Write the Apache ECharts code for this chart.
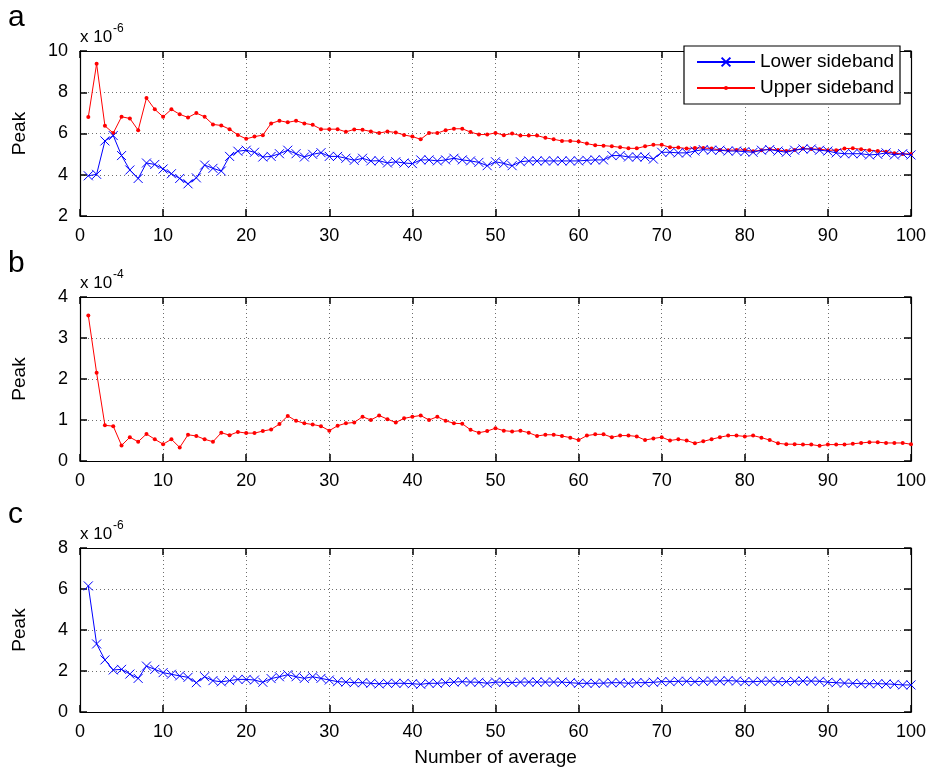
<!DOCTYPE html>
<html>
<head>
<meta charset="utf-8">
<script src="https://cdn.jsdelivr.net/npm/echarts@6/dist/echarts.min.js"></script>
<style>
  html, body { margin: 0; padding: 0; background: #ffffff; }
  #chart { width: 929px; height: 772px; }
</style>
</head>
<body>
<div id="chart"></div>
<script>
// Number of averaged acquisitions (x axis)
const averages = Array.from({ length: 100 }, (_, i) => i + 1);
const xTicks = [0, 10, 20, 30, 40, 50, 60, 70, 80, 90, 100];

// Panel a: peak amplitude of the two sidebands (x 10^-6)
const lowerSidebandA = [
  3.95, 4.02, 5.64, 5.90, 4.93, 4.23, 3.82, 4.57, 4.50, 4.28,
  4.05, 3.82, 3.56, 3.85, 4.47, 4.31, 4.18, 4.89, 5.14, 5.19,
  5.09, 4.86, 4.89, 5.02, 5.19, 5.02, 4.86, 4.99, 5.07, 4.89,
  4.89, 4.80, 4.70, 4.80, 4.67, 4.68, 4.57, 4.63, 4.57, 4.54,
  4.72, 4.72, 4.67, 4.72, 4.80, 4.72, 4.67, 4.60, 4.44, 4.63,
  4.55, 4.44, 4.63, 4.67, 4.67, 4.67, 4.67, 4.67, 4.67, 4.67,
  4.70, 4.72, 4.72, 4.93, 4.93, 4.86, 4.86, 4.86, 4.76, 5.09,
  5.09, 5.06, 5.06, 5.15, 5.22, 5.19, 5.19, 5.15, 5.15, 5.12,
  5.09, 5.19, 5.22, 5.15, 5.09, 5.19, 5.25, 5.25, 5.19, 5.15,
  5.06, 5.02, 5.02, 5.02, 4.96, 4.99, 5.06, 4.96, 5.02, 4.96
];
const upperSidebandA = [
  6.80, 9.38, 6.37, 6.02, 6.81, 6.73, 6.16, 7.72, 7.17, 6.81,
  7.17, 6.93, 6.78, 6.99, 6.81, 6.44, 6.39, 6.21, 5.93, 5.74,
  5.85, 5.92, 6.49, 6.62, 6.54, 6.62, 6.49, 6.42, 6.21, 6.21,
  6.21, 6.08, 6.20, 6.18, 6.10, 6.02, 6.10, 6.05, 5.93, 5.85,
  5.72, 6.03, 6.02, 6.16, 6.23, 6.23, 6.07, 5.95, 5.95, 6.03,
  5.92, 6.00, 5.90, 5.90, 5.90, 5.79, 5.72, 5.64, 5.64, 5.61,
  5.51, 5.43, 5.41, 5.38, 5.33, 5.28, 5.28, 5.38, 5.45, 5.45,
  5.33, 5.32, 5.27, 5.30, 5.30, 5.27, 5.20, 5.19, 5.20, 5.20,
  5.14, 5.19, 5.24, 5.20, 5.15, 5.20, 5.27, 5.25, 5.24, 5.19,
  5.19, 5.27, 5.28, 5.24, 5.19, 5.15, 5.12, 5.04, 5.01, 5.01
];

// Panel b: peak (x 10^-4)
const peakB = [
  3.55, 2.15, 0.87, 0.85, 0.38, 0.58, 0.47, 0.66, 0.53, 0.41,
  0.53, 0.33, 0.64, 0.61, 0.53, 0.47, 0.69, 0.63, 0.71, 0.68,
  0.68, 0.73, 0.77, 0.90, 1.10, 0.98, 0.92, 0.89, 0.85, 0.74,
  0.86, 0.92, 0.94, 1.08, 1.00, 1.11, 1.02, 0.94, 1.04, 1.08,
  1.11, 1.00, 1.08, 0.98, 0.92, 0.91, 0.76, 0.69, 0.73, 0.80,
  0.74, 0.72, 0.74, 0.69, 0.61, 0.64, 0.64, 0.61, 0.57, 0.51,
  0.62, 0.65, 0.65, 0.58, 0.62, 0.62, 0.60, 0.51, 0.55, 0.58,
  0.50, 0.53, 0.50, 0.43, 0.48, 0.53, 0.58, 0.62, 0.62, 0.60,
  0.62, 0.57, 0.51, 0.43, 0.41, 0.41, 0.40, 0.40, 0.37, 0.40,
  0.40, 0.40, 0.42, 0.44, 0.46, 0.46, 0.44, 0.44, 0.44, 0.41
];

// Panel c: peak (x 10^-6)
const peakC = [
  6.15, 3.32, 2.54, 2.05, 2.08, 1.85, 1.64, 2.24, 2.08, 1.92,
  1.84, 1.76, 1.69, 1.43, 1.72, 1.53, 1.47, 1.53, 1.59, 1.59,
  1.56, 1.45, 1.63, 1.72, 1.82, 1.72, 1.64, 1.72, 1.64, 1.56,
  1.48, 1.46, 1.43, 1.43, 1.40, 1.37, 1.40, 1.40, 1.40, 1.38,
  1.35, 1.40, 1.40, 1.43, 1.46, 1.48, 1.46, 1.45, 1.40, 1.46,
  1.45, 1.43, 1.46, 1.46, 1.46, 1.46, 1.46, 1.46, 1.43, 1.40,
  1.40, 1.40, 1.41, 1.43, 1.43, 1.40, 1.43, 1.43, 1.45, 1.48,
  1.48, 1.50, 1.50, 1.48, 1.50, 1.51, 1.51, 1.53, 1.51, 1.48,
  1.48, 1.50, 1.51, 1.48, 1.48, 1.50, 1.51, 1.51, 1.50, 1.45,
  1.43, 1.41, 1.40, 1.38, 1.38, 1.38, 1.37, 1.35, 1.32, 1.32
];

// Y ranges of the three panels
const yRangeA = { min: 2, max: 10, interval: 2 };
const yRangeB = { min: 0, max: 4, interval: 1 };
const yRangeC = { min: 0, max: 8, interval: 2 };

const FONT = '"Liberation Sans", Arial, Helvetica, sans-serif';
const BLUE = '#0000ff';
const RED = '#ff0000';
const CROSS = 'path://M0,0L10,10M10,0L0,10';

const panels = [
  { top: 51, height: 165, range: yRangeA, letter: 'a', exp: '-6' },
  { top: 297, height: 164, range: yRangeB, letter: 'b', exp: '-4' },
  { top: 548, height: 164, range: yRangeC, letter: 'c', exp: '-6' }
];

const frameLine = { show: true, onZero: false, lineStyle: { color: '#000', width: 1.2 } };
const inTick = { show: true, inside: true, length: 7, lineStyle: { color: '#000', width: 1.5 } };
const gridDots = { show: true, lineStyle: { color: '#6e6e6e', width: 1, type: [1, 3] } };

const grids = [];
const xAxes = [];
const yAxes = [];
panels.forEach((p, i) => {
  grids.push({ left: 80, right: 18, top: p.top, height: p.height });
  // bottom axis with labels
  xAxes.push({
    type: 'value', gridIndex: i, position: 'bottom', min: 0, max: 100, interval: 10,
    axisLine: frameLine, axisTick: inTick, splitLine: gridDots,
    axisLabel: { show: true, margin: 11, color: '#000', fontSize: 18, fontFamily: FONT },
    name: i === 2 ? 'Number of average' : '',
    nameLocation: 'middle', nameGap: 36,
    nameTextStyle: { color: '#000', fontSize: 19, fontFamily: FONT }
  });
  // top frame edge with mirrored ticks
  xAxes.push({
    type: 'value', gridIndex: i, position: 'top', min: 0, max: 100, interval: 10,
    axisLine: frameLine, axisTick: inTick, splitLine: { show: false },
    axisLabel: { show: false }
  });
  // left axis with labels
  yAxes.push({
    type: 'value', gridIndex: i, position: 'left',
    min: p.range.min, max: p.range.max, interval: p.range.interval,
    axisLine: frameLine, axisTick: inTick, splitLine: gridDots,
    axisLabel: { show: true, margin: 12, color: '#000', fontSize: 18, fontFamily: FONT },
    name: 'Peak', nameLocation: 'middle', nameGap: 51,
    nameTextStyle: { color: '#000', fontSize: 19, fontFamily: FONT }
  });
  // right frame edge with mirrored ticks
  yAxes.push({
    type: 'value', gridIndex: i, position: 'right',
    min: p.range.min, max: p.range.max, interval: p.range.interval,
    axisLine: frameLine, axisTick: inTick, splitLine: { show: false },
    axisLabel: { show: false }
  });
});

function pairs(values) {
  return averages.map((n, k) => [n, values[k]]);
}

function crossSeries(name, values, panel) {
  return {
    name, type: 'line', xAxisIndex: panel * 2, yAxisIndex: panel * 2,
    data: pairs(values), symbol: CROSS, symbolSize: 9, showSymbol: true,
    lineStyle: { color: BLUE, width: 1 },
    itemStyle: { color: BLUE, borderColor: BLUE, borderWidth: 1 },
    emphasis: { disabled: true }, z: 3
  };
}
function dotSeries(name, values, panel) {
  return {
    name, type: 'line', xAxisIndex: panel * 2, yAxisIndex: panel * 2,
    data: pairs(values), symbol: 'circle', symbolSize: 4, showSymbol: true,
    lineStyle: { color: RED, width: 1 },
    itemStyle: { color: RED },
    emphasis: { disabled: true }, z: 2
  };
}

const series = [
  crossSeries('Lower sideband', lowerSidebandA, 0),
  dotSeries('Upper sideband', upperSidebandA, 0),
  dotSeries('Peak b', peakB, 1),
  crossSeries('Peak c', peakC, 2)
];

// panel letters and axis multipliers
const graphics = [];
panels.forEach(p => {
  graphics.push({
    type: 'text', x: 8, y: p.top - 33,
    style: { text: p.letter, font: '30px ' + FONT, fill: '#000',
      align: 'left', verticalAlign: 'middle', textAlign: 'left', textVerticalAlign: 'middle' }
  });
  graphics.push({
    type: 'text', x: 80, y: p.top - 14,
    style: { text: 'x 10', font: '17px ' + FONT, fill: '#000',
      align: 'left', verticalAlign: 'middle', textAlign: 'left', textVerticalAlign: 'middle' }
  });
  graphics.push({
    type: 'text', x: 113, y: p.top - 22,
    style: { text: p.exp, font: '12px ' + FONT, fill: '#000',
      align: 'left', verticalAlign: 'middle', textAlign: 'left', textVerticalAlign: 'middle' }
  });
});
// legend frame (white box over the plot of panel a)
graphics.push({
  type: 'rect', z: 9,
  shape: { x: 684, y: 46, width: 216, height: 58 },
  style: { fill: '#ffffff', stroke: '#000000', lineWidth: 1.2 }
});

const legendText = { color: '#000', fontSize: 19, fontFamily: FONT, lineHeight: 20 };

const chart = echarts.init(document.getElementById('chart'), null, { renderer: 'canvas' });
chart.setOption({
  animation: false,
  backgroundColor: '#ffffff',
  textStyle: { fontFamily: FONT },
  grid: grids,
  xAxis: xAxes,
  yAxis: yAxes,
  legend: [
    {
      data: ['Lower sideband'], orient: 'vertical', left: 696, top: 52,
      padding: 0, itemWidth: 58, itemHeight: 11,
      textStyle: legendText, selectedMode: false, z: 10
    },
    {
      data: ['Upper sideband'], orient: 'vertical', left: 696, top: 78,
      padding: 0, itemWidth: 58, itemHeight: 5,
      textStyle: legendText, selectedMode: false, z: 10
    }
  ],
  graphic: graphics,
  series: series
});
</script>
</body>
</html>
